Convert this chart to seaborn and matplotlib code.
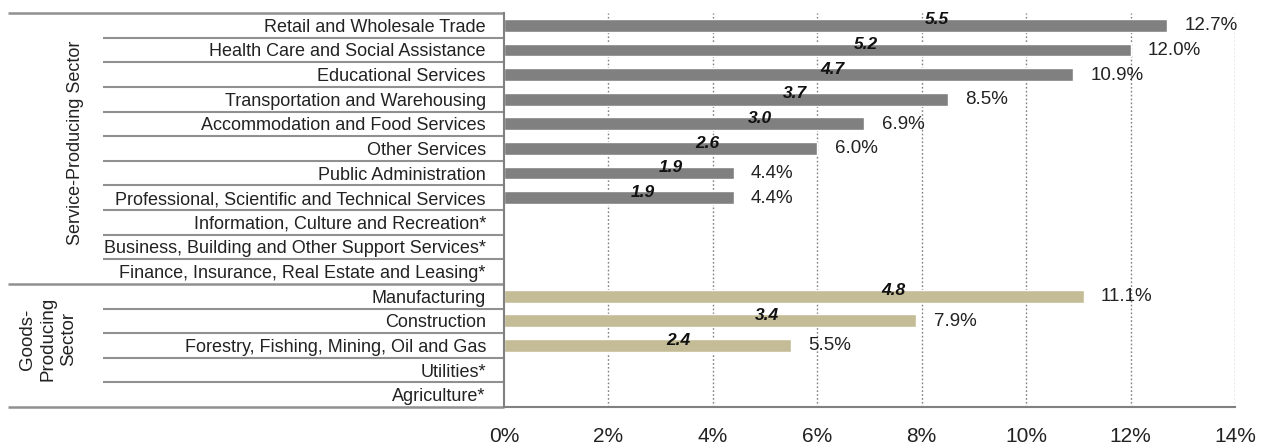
import numpy as np
import pandas as pd
import matplotlib
matplotlib.use("Agg")
import matplotlib.pyplot as plt
import matplotlib.transforms as mtrans
import seaborn as sns
from matplotlib import font_manager

# ---- data ----
categories = [
    "Retail and Wholesale Trade",
    "Health Care and Social Assistance",
    "Educational Services",
    "Transportation and Warehousing",
    "Accommodation and Food Services",
    "Other Services",
    "Public Administration",
    "Professional, Scientific and Technical Services",
    "Information, Culture and Recreation*",
    "Business, Building and Other Support Services*",
    "Finance, Insurance, Real Estate and Leasing*",
    "Manufacturing",
    "Construction",
    "Forestry, Fishing, Mining, Oil and Gas",
    "Utilities*",
    "Agriculture*",
]
sectors = ["Service"] * 11 + ["Goods"] * 5
shares = [12.7, 12.0, 10.9, 8.5, 6.9, 6.0, 4.4, 4.4, np.nan, np.nan, np.nan,
          11.1, 7.9, 5.5, np.nan, np.nan]
counts = [5.5, 5.2, 4.7, 3.7, 3.0, 2.6, 1.9, 1.9, np.nan, np.nan, np.nan,
          4.8, 3.4, 2.4, np.nan, np.nan]
count_label_x = [8.3, 6.93, 6.28, 5.57, 4.9, 3.89, 3.2, 2.66, np.nan, np.nan, np.nan,
                 7.45, 5.03, 3.33, np.nan, np.nan]
x_ticks = [0, 2, 4, 6, 8, 10, 12, 14]
x_ticklabels = ["0%", "2%", "4%", "6%", "8%", "10%", "12%", "14%"]
groups = ["Service-Producing Sector", "Goods-\nProducing\nSector"]

df = pd.DataFrame({"category": categories, "sector": sectors, "share": shares})

# ---- style ----
sns.set_style("white")
names = {f.name for f in font_manager.fontManager.ttflist}
base = "Liberation Sans Narrow" if "Liberation Sans Narrow" in names else "Liberation Sans"
plt.rcParams["font.family"] = [base, "DejaVu Sans"]

fig = plt.figure(figsize=(12.65, 4.47), dpi=100)
L, R, T, B = 504 / 1265, 1235 / 1265, 1 - 13 / 447, 1 - 407 / 447
ax = fig.add_axes([L, B, R - L, T - B])

sns.barplot(data=df, y="category", x="share", hue="sector", order=categories,
            palette={"Service": "#808080", "Goods": "#C4BC96"}, dodge=False,
            width=0.52, legend=False, ax=ax, orient="h", saturation=1)

ax.set_xlim(0, 14)
ax.set_ylim(len(categories) - 0.5, -0.5)
ax.set_xticks(x_ticks)
ax.set_xticklabels(x_ticklabels, fontsize=15)
ax.set_xlabel("")
ax.set_ylabel("")
ax.set_yticks(range(len(categories)))
ax.set_yticklabels(categories, fontsize=13)
ax.tick_params(axis="y", length=0, pad=13)
ax.tick_params(axis="x", length=4.5, width=1.3, color="#808080", pad=10, direction="out")
for lbl in ax.get_xticklabels():
    lbl.set_color("#222222")
for lbl in ax.get_yticklabels():
    lbl.set_color("#222222")

for s in ["top", "right"]:
    ax.spines[s].set_visible(False)
ax.spines["left"].set_color("#808080")
ax.spines["left"].set_linewidth(1.5)
ax.spines["bottom"].set_color("#808080")
ax.spines["bottom"].set_linewidth(1.5)

for xv in x_ticks[1:]:
    ax.axvline(xv, color="#808080", linestyle=(0, (1.2, 1.6)), linewidth=1.0, zorder=0)

# value labels
for i, (v, c, cx) in enumerate(zip(shares, counts, count_label_x)):
    if np.isnan(v):
        continue
    ax.text(v + 0.33, i + 0.02, f"{v:.1f}%", va="center", ha="left",
            fontsize=13.5, color="#222222")
    ax.text(cx, i - 0.22, f"{c:.1f}", va="center", ha="center", fontsize=12.5,
            style="italic", fontweight="bold", color="#111111")

# table-like lines on the left
trans = mtrans.blended_transform_factory(fig.transFigure, ax.transData)
n = len(categories)
for k in range(n + 1):
    yb = k - 0.5
    if k in (0, 11, n):
        x0 = 8 / 1265
        lw = 1.8
    else:
        x0 = 103 / 1265
        lw = 1.5
    ax.plot([x0, L], [yb, yb], transform=trans, color="#909090", linewidth=lw,
            clip_on=False, solid_capstyle="butt")

fig.text(75 / 1265, 1 - 143 / 447, groups[0], rotation=90, ha="center", va="center",
         fontsize=13, color="#222222")
fig.text(48 / 1265, 1 - 339 / 447, groups[1], rotation=90, ha="center", va="center",
         fontsize=13.5, color="#222222", linespacing=1.3)

fig.savefig("out.png", dpi=100)
